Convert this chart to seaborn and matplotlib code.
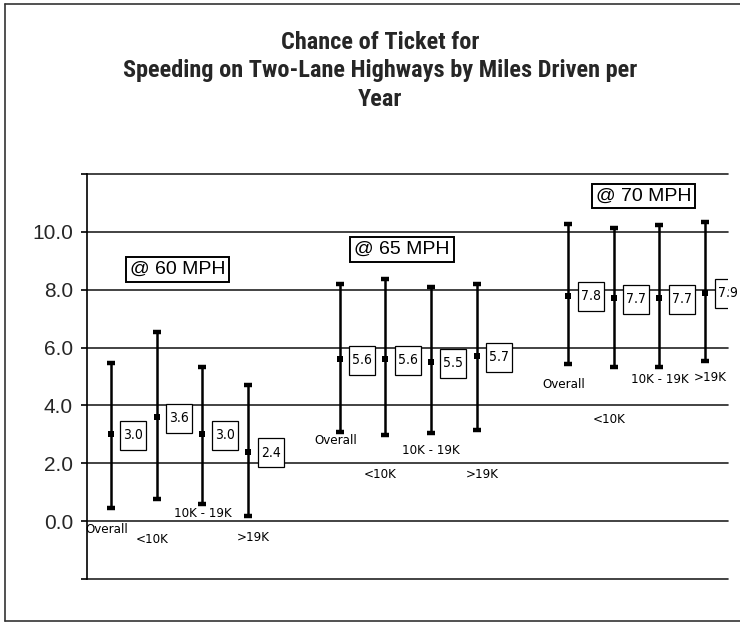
import matplotlib
matplotlib.use("Agg")
import matplotlib.pyplot as plt
from matplotlib import font_manager as fm
from matplotlib.lines import Line2D
from matplotlib.patches import Rectangle
from matplotlib.transforms import ScaledTranslation
import seaborn as sns
import pandas as pd
import numpy as np

# ---- data ----
speeds = ["@ 60 MPH", "@ 65 MPH", "@ 70 MPH"]
mileage = ["Overall", "<10K", "10K - 19K", ">19K"]
mean_60 = [3.0, 3.6, 3.0, 2.4]
low_60 = [0.45, 0.75, 0.60, 0.18]
high_60 = [5.48, 6.54, 5.34, 4.72]
mean_65 = [5.6, 5.6, 5.5, 5.7]
low_65 = [3.09, 2.97, 3.05, 3.15]
high_65 = [8.20, 8.37, 8.09, 8.20]
mean_70 = [7.8, 7.7, 7.7, 7.9]
low_70 = [5.43, 5.33, 5.33, 5.55]
high_70 = [10.26, 10.15, 10.22, 10.33]
y_ticks = [0.0, 2.0, 4.0, 6.0, 8.0, 10.0]
title = "Chance of Ticket for\nSpeeding on Two-Lane Highways by Miles Driven per\nYear"

# ---- layout (not data) ----
cat_label_dx = [-0.09, -0.1, 0.0, 0.12]
cat_label_y = {
    "@ 60 MPH": [-0.29, -0.62, 0.28, -0.55],
    "@ 65 MPH": [2.79, 1.62, 2.45, 1.62],
    "@ 70 MPH": [4.72, 3.52, 4.90, 4.97],
}
speed_label_pos = {"@ 60 MPH": (1.45, 8.69), "@ 65 MPH": (6.37, 9.38), "@ 70 MPH": (11.65, 11.24)}

rows = []
for g, (sp, m, lo, hi) in enumerate(zip(speeds, [mean_60, mean_65, mean_70],
                                        [low_60, low_65, low_70],
                                        [high_60, high_65, high_70])):
    for i, cat in enumerate(mileage):
        rows.append(dict(speed=sp, mileage=cat, pos=g * 5 + i,
                         mean=m[i], low=lo[i], high=hi[i]))
df = pd.DataFrame(rows)

# ---- fonts ----
avail = {}
for f in fm.fontManager.ttflist:
    avail.setdefault(f.name, set()).add(f.weight if isinstance(f.weight, int) else 400)


def pick(cands, bold=False, default="Liberation Sans"):
    for c in cands:
        if c in avail:
            ws = avail[c]
            if not bold or any((w if isinstance(w, int) else 400) >= 600 for w in ws):
                return c
    return default


title_font = pick(["Liberation Sans Narrow", "Arial Narrow", "Roboto Condensed",
                   "PT Sans Narrow", "Archivo Narrow", "Fira Sans Condensed",
                   "Barlow Semi Condensed"], bold=True)
label_font = "DejaVu Sans"  # condensed stretch used below (Tahoma-like)

sns.set_theme(style="white")
plt.rcParams["font.family"] = ["Liberation Sans", "DejaVu Sans"]

fig = plt.figure(figsize=(7.4, 6.22), dpi=100)
ax = fig.add_axes([87 / 740, 1 - 579 / 622, (728 - 87) / 740, (579 - 174) / 622])

# range bars
ax.errorbar(df["pos"], df["mean"],
            yerr=[df["mean"] - df["low"], df["high"] - df["mean"]],
            fmt="none", ecolor="black", elinewidth=1.8, capsize=3.2, capthick=3.2, zorder=3)
# means
sns.scatterplot(data=df, x="pos", y="mean", ax=ax, color="black", marker="s",
                s=14, linewidth=0, zorder=4, legend=False)

# value boxes (box drawn in pixel units anchored at the data point)
for _, r in df.iterrows():
    anchor = ScaledTranslation(r["pos"], r["mean"], ax.transData)
    box = Rectangle((0.095, -0.155), 0.26, 0.29, transform=fig.dpi_scale_trans + anchor,
                    fc="white", ec="black", lw=0.9, zorder=5)
    ax.add_artist(box)
    ax.annotate(f"{r['mean']:.1f}", xy=(r["pos"], r["mean"]), xytext=(0.225 * 72, -0.6),
                textcoords="offset points", ha="center", va="center",
                fontsize=10, family=label_font, stretch="condensed", color="black", zorder=6)

# category labels
for _, r in df.iterrows():
    i = mileage.index(r["mileage"])
    ax.text(r["pos"] + cat_label_dx[i], cat_label_y[r["speed"]][i], r["mileage"],
            ha="center", va="center", fontsize=9.5, family=label_font,
            stretch="condensed", color="black")

# speed labels
for sp in speeds:
    x, y = speed_label_pos[sp]
    ax.text(x, y, sp, ha="center", va="center", fontsize=14, color="black",
            bbox=dict(boxstyle="square,pad=0.2", fc="white", ec="black", lw=1.4))

# axes styling
ax.set_xlim(-0.525, 13.5)
ax.set_ylim(-2, 12)
grid_vals = np.arange(-2, 13, 2)
ax.set_yticks(grid_vals)
ax.set_yticklabels([f"{v:.1f}" if v in y_ticks else "" for v in grid_vals], fontsize=15)
for v in grid_vals:
    ax.axhline(v, color="#222222", lw=1.2, zorder=1, clip_on=False)
ax.set_xticks([])
ax.set_xlabel("")
ax.set_ylabel("")
for s in ["top", "right", "bottom"]:
    ax.spines[s].set_visible(False)
ax.spines["left"].set_color("black")
ax.spines["left"].set_linewidth(1.2)
ax.tick_params(axis="y", length=4.5, width=1.2, color="black", pad=5.5, left=True)
ax.patch.set_alpha(0)

fig.text(380 / 740, 1 - 71 / 622, title, ha="center", va="center",
         fontsize=17.5, fontweight="bold", family=[title_font, "DejaVu Sans"], linespacing=1.33)

# outer frame (left, top, bottom)
for xs, ys in [([5 / 740, 5 / 740], [1.5 / 622, 618 / 622]),
               ([5 / 740, 1.0], [618 / 622, 618 / 622]),
               ([5 / 740, 1.0], [1.5 / 622, 1.5 / 622])]:
    fig.add_artist(Line2D(xs, ys, color="#333333", lw=1.2))

fig.savefig("out.png", dpi=100, facecolor="white")
